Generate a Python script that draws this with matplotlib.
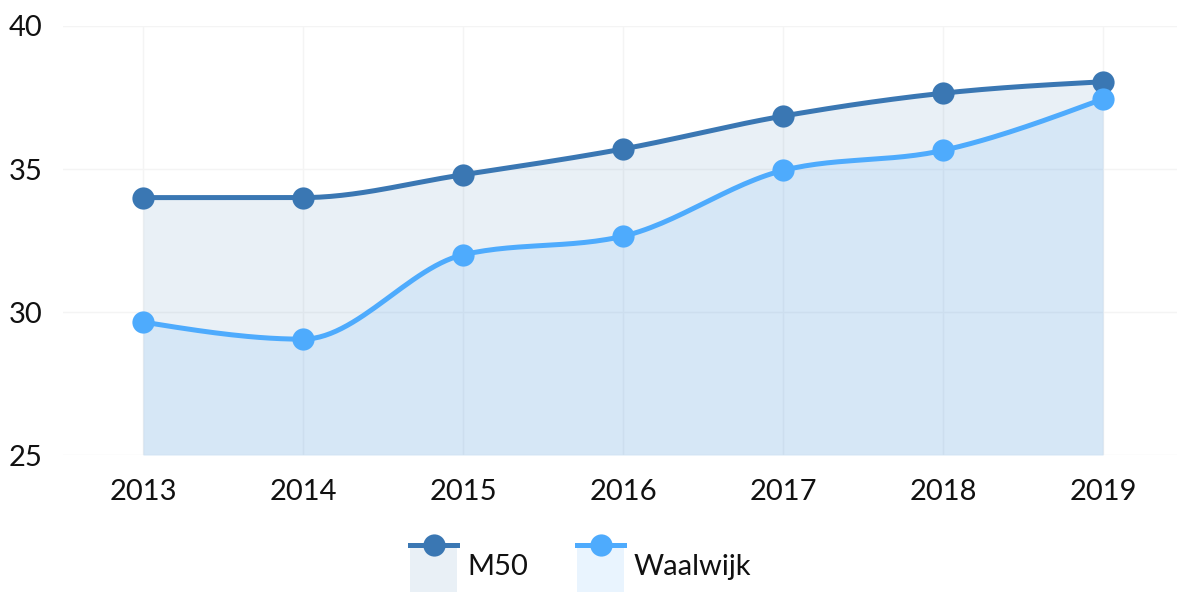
import numpy as np
import matplotlib
matplotlib.use("Agg")
import matplotlib.pyplot as plt
from matplotlib.patches import Rectangle
from matplotlib.lines import Line2D

plt.rcParams['font.family'] = ['Lato', 'DejaVu Sans']

years = ['2013', '2014', '2015', '2016', '2017', '2018', '2019']
m50 = [34.0, 34.0, 34.8, 35.7, 36.85, 37.65, 38.05]
waalwijk = [29.65, 29.05, 32.0, 32.65, 34.95, 35.65, 37.45]

c_m50 = '#3a77b3'
c_waal = '#4eabfd'


def monotone(x, y, n=30):
    # monotone cubic curve (same idea as d3.curveMonotoneX)
    x = np.asarray(x, float)
    y = np.asarray(y, float)
    h = np.diff(x)
    s = np.diff(y) / h
    t = np.zeros(len(x))
    for i in range(1, len(x) - 1):
        p = (s[i - 1] * h[i] + s[i] * h[i - 1]) / (h[i - 1] + h[i])
        t[i] = (np.sign(s[i - 1]) + np.sign(s[i])) * min(abs(s[i - 1]), abs(s[i]), 0.5 * abs(p))
    t[0] = (3 * s[0] - t[1]) / 2
    t[-1] = (3 * s[-1] - t[-2]) / 2
    xs, ys = [], []
    for i in range(len(x) - 1):
        u = np.linspace(0, 1, n)
        dx = h[i] / 3
        p0, p3 = y[i], y[i + 1]
        p1 = y[i] + dx * t[i]
        p2 = y[i + 1] - dx * t[i + 1]
        xx = x[i] + u * h[i]
        yy = (1 - u) ** 3 * p0 + 3 * (1 - u) ** 2 * u * p1 + 3 * (1 - u) * u ** 2 * p2 + u ** 3 * p3
        xs.append(xx if i == 0 else xx[1:])
        ys.append(yy if i == 0 else yy[1:])
    return np.concatenate(xs), np.concatenate(ys)


fig = plt.figure(figsize=(11.77, 5.92), dpi=100)
ax = fig.add_axes([63 / 1177, 137 / 592, 1 - 63 / 1177, 429 / 592])

x = np.arange(len(years))
for vals, col, a, z in [(m50, c_m50, 0.11, 2), (waalwijk, c_waal, 0.12, 3)]:
    sx, sy = monotone(x, vals)
    ax.fill_between(sx, 25, sy, color=col, alpha=a, lw=0, zorder=z)
    ax.plot(sx, sy, color=col, lw=3.6, zorder=z + 2, solid_capstyle='round')
    ax.plot(x, vals, 'o', color=col, ms=16, mec='none', zorder=z + 2, clip_on=False)

ax.set_xlim(-0.5, 6.4625)
ax.set_ylim(25, 40)
ax.set_yticks([25, 30, 35, 40])
ax.set_xticks(x)
ax.set_xticklabels(years)
ax.grid(True, color='#f4f4f4', lw=1)
ax.set_axisbelow(True)
for sp in ax.spines.values():
    sp.set_visible(False)
ax.tick_params(length=0, labelsize=21, colors='#111111')
ax.tick_params(axis='y', pad=14.5)
ax.tick_params(axis='x', pad=17)

# legend drawn by hand
lg = fig.add_axes([0, 0, 1, 1], zorder=10)
lg.set_xlim(0, 1177)
lg.set_ylim(592, 0)
lg.axis('off')
for x0, col, a, label in [(410, c_m50, 0.11, 'M50'), (577, c_waal, 0.12, 'Waalwijk')]:
    lg.add_patch(Rectangle((x0, 545), 47, 50, color=col, alpha=a, lw=0))
    lg.add_line(Line2D([x0, x0 + 47], [545, 545], color=col, lw=3.6))
    lg.plot(x0 + 23.5, 545, 'o', color=col, ms=16, mec='none')
    lg.text(x0 + 57, 567, label, fontsize=21, va='center', ha='left', color='#111111')

fig.savefig('out.png', dpi=100)
